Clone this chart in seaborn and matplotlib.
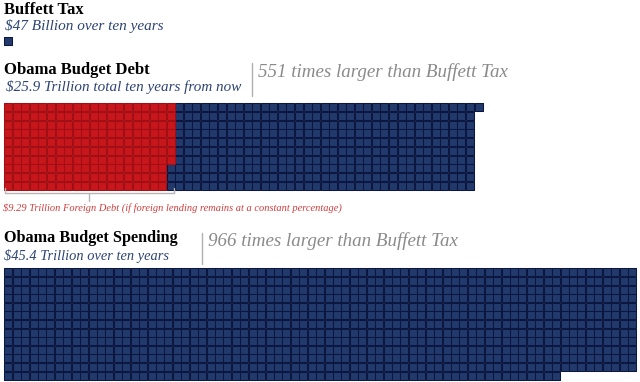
import matplotlib
matplotlib.use('Agg')
import matplotlib.pyplot as plt
import seaborn as sns
import pandas as pd

sns.set_style('white')
plt.rcParams['font.family'] = ['Liberation Serif', 'DejaVu Serif']

# values in units of the Buffett Tax ($47 billion)
buffett_units = 1
debt_units = 551
foreign_units = 197
spending_units = 966

titles = ['Buffett Tax', 'Obama Budget Debt', 'Obama Budget Spending']
subtitles = ['$47 Billion over ten years',
             '$25.9 Trillion total ten years from now',
             '$45.4 Trillion over ten years']
ratio_labels = ['551 times larger than Buffett Tax',
                '966 times larger than Buffett Tax']
foreign_label = '$9.29 Trillion Foreign Debt (if foreign lending remains at a constant percentage)'

NAVY = '#22396b'
NAVY_EDGE = '#0b1740'
RED = '#c8161d'
RED_EDGE = '#a00f14'
SUB = '#2c4374'
GRAY = '#8a8a8a'


def waffle(n, x0, y0, px, py, rows=None, cols=None, red=0):
    # rows given -> fill column by column, cols given -> fill row by row
    recs = []
    for i in range(n):
        if rows:
            c, r = divmod(i, rows)
        else:
            r, c = divmod(i, cols)
        recs.append({'x': x0 + (c + 0.5) * px, 'y': y0 + (r + 0.5) * py,
                     'kind': 'foreign' if i < red else 'other'})
    return pd.DataFrame(recs)


fig = plt.figure(figsize=(6.4, 3.82), dpi=100)
ax = fig.add_axes([0, 0, 1, 1])
ax.set_xlim(0, 640)
ax.set_ylim(382, 0)
ax.axis('off')

blocks = [
    waffle(buffett_units, 4, 36.5, 8.5, 8.5, rows=1),
    waffle(debt_units, 4, 103, 8.55, 8.7, rows=10, red=foreign_units),
    waffle(spending_units, 4, 268, 8.43, 8.6, cols=75),
]
cells = pd.concat(blocks, ignore_index=True)

for kind, fc, ec in [('other', NAVY, NAVY_EDGE), ('foreign', RED, RED_EDGE)]:
    sub = cells[cells['kind'] == kind]
    sns.scatterplot(data=sub, x='x', y='y', marker='s', s=26, color=fc,
                    edgecolor=ec, linewidth=0.75, ax=ax, legend=False)

# headings
ax.text(4, 2, titles[0], fontsize=12, fontweight='bold', va='top', color='black')
ax.text(5, 19, subtitles[0], fontsize=11, style='italic', va='top', color=SUB)

ax.text(4, 62, titles[1], fontsize=12, fontweight='bold', va='top', color='black')
ax.text(6, 80, subtitles[1], fontsize=10.9, style='italic', va='top', color=SUB)
ax.plot([252, 252], [63, 96], color='#b0b0b0', lw=1)
ax.text(258, 63, ratio_labels[0], fontsize=13.7, style='italic', va='top', color=GRAY)

# bracket under the foreign debt part
bx0, bx1, by = 4.5, 174, 193
ax.plot([bx0, bx0, bx1, bx1], [188, by, by, 188], color='#b5b5b5', lw=1)
ax.plot([(bx0 + bx1) / 2] * 2, [by, 201], color='#b5b5b5', lw=1)
ax.text(3, 203, foreign_label, fontsize=7.5, style='italic', va='top', color='#d23c3c')

ax.text(4, 230, titles[2], fontsize=11.7, fontweight='bold', va='top', color='black')
ax.text(4, 249, subtitles[2], fontsize=10.4, style='italic', va='top', color=SUB)
ax.plot([202, 202], [233, 264], color='#b0b0b0', lw=1)
ax.text(208, 232, ratio_labels[1], fontsize=13.7, style='italic', va='top', color=GRAY)

fig.savefig('out.png', dpi=100)
plt.close(fig)
